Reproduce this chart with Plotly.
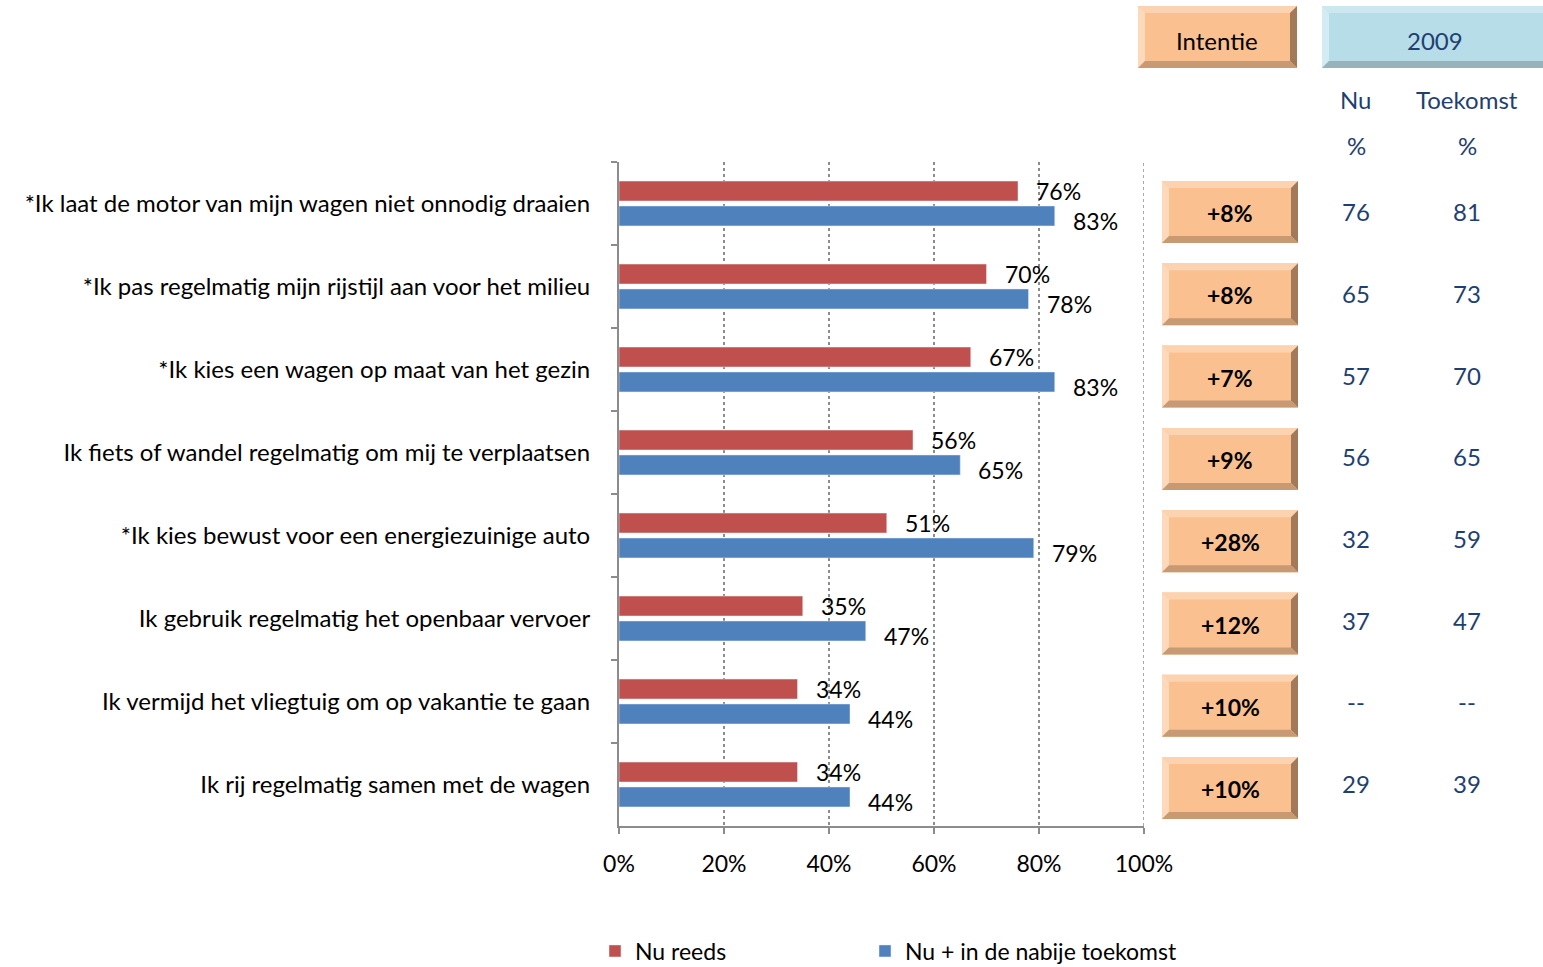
import plotly.graph_objects as go

categories = [
    "*Ik laat de motor van mijn wagen niet onnodig draaien",
    "*Ik pas regelmatig mijn rijstijl aan voor het milieu",
    "*Ik kies een wagen op maat van het gezin",
    "Ik fiets of wandel regelmatig om mij te verplaatsen",
    "*Ik kies bewust voor een energiezuinige auto",
    "Ik gebruik regelmatig het openbaar vervoer",
    "Ik vermijd het vliegtuig om op vakantie te gaan",
    "Ik rij regelmatig samen met de wagen",
]
nu_reeds = [76, 70, 67, 56, 51, 35, 34, 34]
nu_toekomst = [83, 78, 83, 65, 79, 47, 44, 44]
intentie = ["+8%", "+8%", "+7%", "+9%", "+28%", "+12%", "+10%", "+10%"]
nu_2009 = ["76", "65", "57", "56", "32", "37", "--", "29"]
toekomst_2009 = ["81", "73", "70", "65", "59", "47", "--", "39"]
x_tickvals = [0, 20, 40, 60, 80, 100]
x_ticktext = ["0%", "20%", "40%", "60%", "80%", "100%"]

W, H = 1543, 967
FONT = "Lato"
RED = "#C0504D"
BLUE = "#4F81BD"
NAVY = "#1F3F73"

def px_x(x):
    return x / W

def px_y(y):
    return 1 - y / H

fig = go.Figure()
fig.add_trace(go.Bar(y=categories, x=nu_reeds, orientation="h", name="Nu reeds",
                     marker=dict(color=RED), hoverinfo="x+y", legend="legend", showlegend=True))
fig.add_trace(go.Bar(y=categories, x=nu_toekomst, orientation="h", name="Nu + in de nabije toekomst",
                     marker=dict(color=BLUE), hoverinfo="x+y", legend="legend2", showlegend=True))

annotations = []
for c, v in zip(categories, nu_reeds):
    annotations.append(dict(x=v, y=c, xref="x", yref="y", text=f"{v}%", showarrow=False,
                            xanchor="left", yanchor="middle", xshift=16, yshift=13,
                            font=dict(family=FONT, size=23, color="black")))
for c, v in zip(categories, nu_toekomst):
    annotations.append(dict(x=v, y=c, xref="x", yref="y", text=f"{v}%", showarrow=False,
                            xanchor="left", yanchor="middle", xshift=16, yshift=-17,
                            font=dict(family=FONT, size=23, color="black")))

shapes = []

# dotted gridline at the right end of the value axis (100%)
shapes.append(dict(type="line", xref="x", yref="y domain", x0=x_tickvals[-1], x1=x_tickvals[-1],
                   y0=0, y1=1, line=dict(color="#8C8C8C", width=1.5, dash="dot"), layer="below"))

def bevel_box(x0, y0, x1, y1, main, top, left, right, bottom, b=7):
    X0, X1 = px_x(x0), px_x(x1)
    Y0, Y1 = px_y(y0), px_y(y1)
    bx, by = b / W, b / H
    shapes.append(dict(type="rect", xref="paper", yref="paper", x0=X0, x1=X1, y0=Y1, y1=Y0,
                       fillcolor=main, line=dict(width=0), layer="above"))
    def poly(pts, col):
        d = "M " + " L ".join(f"{a:.5f},{c:.5f}" for a, c in pts) + " Z"
        shapes.append(dict(type="path", xref="paper", yref="paper", path=d,
                           fillcolor=col, line=dict(width=0), layer="above"))
    poly([(X0, Y0), (X1, Y0), (X1 - bx, Y0 - by), (X0 + bx, Y0 - by)], top)
    poly([(X0, Y0), (X0 + bx, Y0 - by), (X0 + bx, Y1 + by), (X0, Y1)], left)
    poly([(X1, Y0), (X1, Y1), (X1 - bx, Y1 + by), (X1 - bx, Y0 - by)], right)
    poly([(X0, Y1), (X0 + bx, Y1 + by), (X1 - bx, Y1 + by), (X1, Y1)], bottom)

PEACH = dict(main="#FAC090", top="#FCD3B0", left="#FDD9BC", right="#A27A5A", bottom="#C89A74")
LBLUE = dict(main="#B7DDE8", top="#CCE7EF", left="#D3EBF2", right="#7A979F", bottom="#97B2BA")

def label(xx, yy, txt, size, color):
    annotations.append(dict(x=px_x(xx), y=px_y(yy), xref="paper", yref="paper", text=txt,
                            showarrow=False, xanchor="center", yanchor="middle",
                            font=dict(family=FONT, size=size, color=color)))

# header boxes
bevel_box(1138, 6, 1297, 68, **PEACH)
label(1217, 40, "Intentie", 24, "black")
bevel_box(1322, 6, 1550, 68, **LBLUE)
label(1435, 40, "2009", 24, NAVY)
for txt, xx, yy in [("Nu", 1356, 99), ("Toekomst", 1467, 99), ("%", 1356, 146), ("%", 1467, 146)]:
    label(xx, yy, txt, 24, NAVY)

# per-row boxes and numbers
for i in range(len(categories)):
    cy = 212 + 82.3 * i
    bevel_box(1162, cy - 31, 1298, cy + 31, **PEACH)
    label(1230, cy + 1, f"<b>{intentie[i]}</b>", 23, "black")
    ny = 212 + 81.6 * i
    label(1356, ny, nu_2009[i], 24, NAVY)
    label(1467, ny, toekomst_2009[i], 24, NAVY)

legend_common = dict(orientation="h", xanchor="left", yanchor="middle", visible=True,
                     font=dict(family=FONT, size=23, color="black"),
                     itemclick=False, itemdoubleclick=False, bgcolor="rgba(0,0,0,0)")

fig.update_layout(
    width=W, height=H,
    margin=dict(l=0, r=0, t=0, b=0, autoexpand=False),
    paper_bgcolor="white", plot_bgcolor="white",
    showlegend=True,
    barmode="group", bargap=0.4, bargroupgap=0.2,
    font=dict(family=FONT, size=23, color="black"),
    xaxis=dict(domain=[px_x(619), px_x(1144)], range=[0, 100], tickvals=x_tickvals,
               ticktext=x_ticktext, showline=True, linecolor="#8C8C8C", linewidth=2,
               ticks="outside", ticklen=6, tickcolor="#8C8C8C", tickwidth=2,
               showgrid=True, gridcolor="#8C8C8C", gridwidth=1.5, griddash="dot",
               zeroline=False, ticklabelstandoff=10, automargin=False,
               tickfont=dict(family=FONT, size=23, color="black")),
    yaxis=dict(domain=[px_y(826), px_y(162)], autorange="reversed", showline=True,
               linecolor="#8C8C8C", linewidth=2, ticks="outside", ticklen=6,
               tickcolor="#8C8C8C", tickwidth=2, tickson="boundaries", showgrid=False,
               ticklabelstandoff=22, automargin=False,
               tickfont=dict(family=FONT, size=24, color="black")),
    legend=dict(x=px_x(595), y=px_y(951), **legend_common),
    legend2=dict(x=px_x(865), y=px_y(951), **legend_common),
    annotations=annotations,
    shapes=shapes,
)

fig.write_html("out.html", config={"displayModeBar": False},
               post_script="document.body.style.margin='0';document.body.style.overflow='hidden';")
